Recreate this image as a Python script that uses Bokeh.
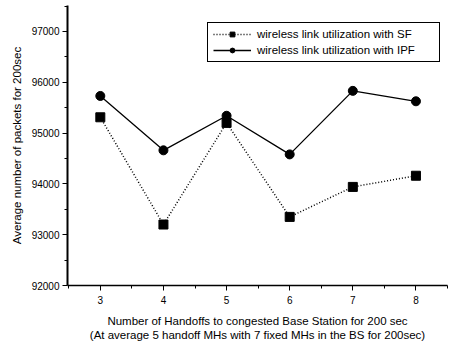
from bokeh.plotting import figure
from bokeh.models import Range1d, FixedTicker, Legend, LegendItem
from bokeh.embed import file_html
from bokeh.resources import INLINE

# Number of handoffs to the congested base station
handoffs = [3, 4, 5, 6, 7, 8]
# Average number of packets over 200 sec
sf_packets = [95310, 93200, 95200, 93350, 93940, 94160]
ipf_packets = [95730, 94660, 95340, 94580, 95830, 95625]

y_ticks = [92000, 93000, 94000, 95000, 96000, 97000]

FONT = "Liberation Sans"

p = figure(width=450, height=349, output_backend="svg", toolbar_location=None,
           x_range=Range1d(2.48, 8.5), y_range=Range1d(92000, 97510),
           min_border_left=67, min_border_right=3, min_border_top=5,
           min_border_bottom=64)
p.outline_line_color = None
p.xgrid.visible = False
p.ygrid.visible = False
p.background_fill_color = "white"
p.border_fill_color = "white"

sf_line = p.line(handoffs, sf_packets, line_color="black", line_width=1.5,
                 line_dash="1 2")
sf_pts = p.scatter(handoffs, sf_packets, marker="square", size=9,
                   fill_color="black", line_color="black")
ipf_line = p.line(handoffs, ipf_packets, line_color="black", line_width=1.3)
ipf_pts = p.scatter(handoffs, ipf_packets, marker="circle", size=9,
                    fill_color="black", line_color="black")

legend = Legend(items=[
    LegendItem(label="wireless link utilization with SF", renderers=[sf_line, sf_pts]),
    LegendItem(label="wireless link utilization with IPF", renderers=[ipf_line, ipf_pts]),
], location=(140, 223))
legend.label_text_font = FONT
legend.label_text_font_size = "11.5px"
legend.label_text_color = "black"
legend.label_height = 12
legend.glyph_height = 12
legend.glyph_width = 38
legend.label_standoff = 6
legend.label_width = 177
legend.padding = 5
legend.spacing = 4
legend.margin = 0
legend.border_line_color = "black"
legend.border_line_width = 1
legend.border_line_alpha = 1
legend.background_fill_alpha = 1
p.add_layout(legend)

xa = p.xaxis[0]
xa.ticker = FixedTicker(ticks=handoffs,
                        minor_ticks=[2.5, 3.5, 4.5, 5.5, 6.5, 7.5, 8.5])
xa.axis_label = ("Number of Handoffs to congested Base Station for 200 sec\n"
                 "(At average 5 handoff MHs with 7 fixed MHs in the BS for 200sec)")
xa.axis_label_text_font = FONT
xa.axis_label_text_font_size = "11.5px"
xa.axis_label_text_font_style = "normal"
xa.axis_label_text_color = "black"
xa.axis_label_standoff = 8
xa.major_label_text_font = FONT
xa.major_label_text_font_size = "10px"
xa.major_label_text_color = "black"
xa.major_label_standoff = 5
xa.axis_line_width = 1.5
xa.major_tick_out = 5
xa.major_tick_in = 0
xa.minor_tick_out = 3
xa.minor_tick_in = 0

ya = p.yaxis[0]
ya.ticker = FixedTicker(ticks=y_ticks,
                        minor_ticks=[92500, 93500, 94500, 95500, 96500, 97500])
ya.axis_label = "Average number of packets for 200sec"
ya.axis_label_text_font = FONT
ya.axis_label_text_font_size = "11.5px"
ya.axis_label_text_font_style = "normal"
ya.axis_label_text_color = "black"
ya.axis_label_standoff = 6
ya.major_label_text_font = FONT
ya.major_label_text_font_size = "10px"
ya.major_label_text_color = "black"
ya.major_label_standoff = 3
ya.axis_line_width = 2
ya.major_tick_out = 5
ya.major_tick_in = 0
ya.minor_tick_out = 3
ya.minor_tick_in = 0

open("out.html", "w").write(file_html(p, INLINE))
